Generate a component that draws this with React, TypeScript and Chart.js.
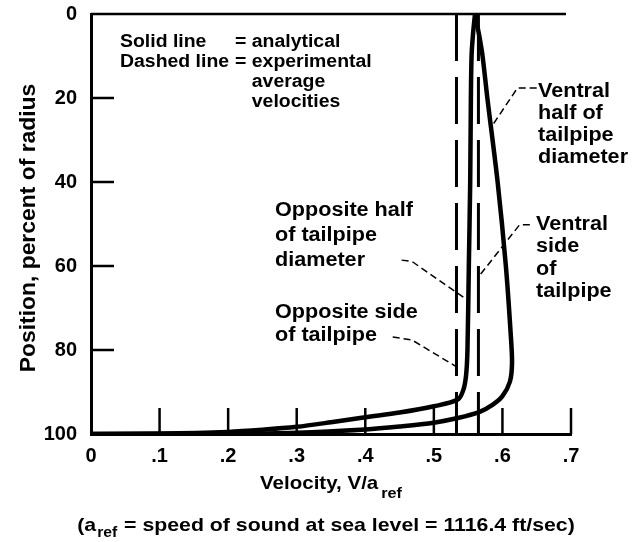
import React, { useEffect, useRef } from 'react';
import { Chart, registerables } from 'chart.js';

Chart.register(...registerables);

// ---- data ----
const xTickValues = [0, 0.1, 0.2, 0.3, 0.4, 0.5, 0.6, 0.7];
const xTickLabels = ['0', '.1', '.2', '.3', '.4', '.5', '.6', '.7'];
const yTickValues = [0, 20, 40, 60, 80, 100];
const yTickLabels = ['0', '20', '40', '60', '80', '100'];

// analytical, opposite half of tailpipe diameter (inner solid curve)
const oppositeHalfVelocity = [0.560, 0.557, 0.555, 0.554, 0.553, 0.551, 0.549, 0.547, 0.543, 0.535, 0.5, 0.45, 0.4, 0.35, 0.3, 0.25, 0.2, 0.1, 0];
const oppositeHalfPosition = [0, 5, 10, 20, 40, 60, 80, 86, 89.5, 91.8, 93.4, 94.9, 96.0, 97.2, 98.3, 99.0, 99.5, 99.9, 100];

// analytical, ventral half of tailpipe diameter (outer solid curve)
const ventralHalfVelocity = [0.560, 0.566, 0.571, 0.578, 0.593, 0.605, 0.612, 0.614, 0.611, 0.600, 0.586, 0.566, 0.535, 0.5, 0.45, 0.4, 0.3, 0.2, 0];
const ventralHalfPosition = [0, 5, 10, 20, 40, 60, 76, 83, 87.5, 91, 93, 94.8, 96.2, 97.3, 98.2, 98.9, 99.7, 99.95, 100];

// experimental average velocities (dashed vertical lines)
const oppositeSideAverage = 0.533;
const ventralSideAverage = 0.565;
const positionRange = [0, 100];

// ---- style / layout ----
const FONT = '"Liberation Sans", Arial, Helvetica, sans-serif';

type Pt = [number, number];
const leaders: Pt[][] = [
  [[0.650, 17.6], [0.622, 17.6], [0.583, 27.1]],
  [[0.640, 50.2], [0.625, 50.2], [0.565, 62.6]],
  [[0.453, 58.6], [0.468, 58.9], [0.548, 68.0]],
  [[0.440, 76.9], [0.468, 77.6], [0.533, 84.0]],
];

const labelTexts: { s: string; x: number; y: number }[] = [
  { s: 'Ventral', x: 538, y: 97 },
  { s: 'half of', x: 538, y: 119 },
  { s: 'tailpipe', x: 538, y: 141 },
  { s: 'diameter', x: 538, y: 163 },
  { s: 'Ventral', x: 536, y: 230 },
  { s: 'side', x: 536, y: 252 },
  { s: 'of', x: 536, y: 275 },
  { s: 'tailpipe', x: 536, y: 297 },
  { s: 'Opposite half', x: 275, y: 216 },
  { s: 'of tailpipe', x: 275, y: 241 },
  { s: 'diameter', x: 275, y: 266 },
  { s: 'Opposite side', x: 275, y: 318 },
  { s: 'of tailpipe', x: 275, y: 341 },
];

function drawText(ctx: CanvasRenderingContext2D, s: string, x: number, y: number, size: number, sx = 1.08, align: 'left' | 'center' = 'left') {
  ctx.save();
  ctx.font = `bold ${size}px ${FONT}`;
  ctx.textBaseline = 'alphabetic';
  ctx.textAlign = 'left';
  ctx.fillStyle = '#000';
  const w = ctx.measureText(s).width * sx;
  const x0 = align === 'center' ? x - w / 2 : x;
  ctx.translate(x0, y);
  ctx.scale(sx, 1);
  ctx.fillText(s, 0, 0);
  ctx.restore();
  return w;
}

function measure(ctx: CanvasRenderingContext2D, s: string, size: number, sx = 1.08) {
  ctx.save();
  ctx.font = `bold ${size}px ${FONT}`;
  const w = ctx.measureText(s).width * sx;
  ctx.restore();
  return w;
}

const decorPlugin = {
  id: 'decor',
  afterDatasetsDraw(chart: any) {
    const ctx: CanvasRenderingContext2D = chart.ctx;
    const xs = chart.scales.x;
    const ys = chart.scales.y;
    const area = chart.chartArea;
    ctx.save();
    ctx.strokeStyle = '#000';
    ctx.lineCap = 'butt';
    // top frame line
    ctx.lineWidth = 2.5;
    ctx.beginPath();
    ctx.moveTo(area.left, area.top);
    ctx.lineTo(xs.getPixelForValue(0.7) - 5, area.top);
    ctx.stroke();
    // bottom ticks (inward)
    ctx.lineWidth = 2.5;
    xTickValues.forEach((v) => {
      if (v === 0) return;
      const px = xs.getPixelForValue(v);
      ctx.beginPath();
      ctx.moveTo(px, area.bottom);
      ctx.lineTo(px, area.bottom - 26);
      ctx.stroke();
    });
    // left ticks (inward)
    yTickValues.forEach((v) => {
      if (v === 0 || v === 100) return;
      const py = ys.getPixelForValue(v);
      ctx.beginPath();
      ctx.moveTo(area.left, py);
      ctx.lineTo(area.left + 23, py);
      ctx.stroke();
    });
    // leader lines
    ctx.lineWidth = 1.5;
    ctx.setLineDash([7, 4]);
    leaders.forEach((pts) => {
      ctx.beginPath();
      pts.forEach(([vx, vy], i) => {
        const px = xs.getPixelForValue(vx);
        const py = ys.getPixelForValue(vy);
        if (i === 0) ctx.moveTo(px, py);
        else ctx.lineTo(px, py);
      });
      ctx.stroke();
    });
    ctx.setLineDash([]);
    ctx.restore();

    // key text (upper left)
    const LS = 18;
    drawText(ctx, 'Solid line', 120, 47, LS);
    drawText(ctx, 'Dashed line', 120, 67, LS);
    const eqW = measure(ctx, '= ', LS);
    drawText(ctx, '= analytical', 235, 47, LS);
    drawText(ctx, '= experimental', 235, 67, LS);
    drawText(ctx, 'average', 235 + eqW, 87, LS);
    drawText(ctx, 'velocities', 235 + eqW, 107, LS);

    // annotation labels
    labelTexts.forEach((t) => drawText(ctx, t.s, t.x, t.y, 20));

    // x axis title with subscript
    const cx = (area.left + area.right) / 2;
    const w1 = measure(ctx, 'Velocity, V/a', 19);
    const w2 = measure(ctx, 'ref', 15);
    const start = cx - (w1 + 3 + w2) / 2;
    drawText(ctx, 'Velocity, V/a', start, 489, 19);
    drawText(ctx, 'ref', start + w1 + 3, 498, 15);

    // footnote
    const fa = '(a';
    const fb = 'ref';
    const fc = ' = speed of sound at sea level = 1116.4 ft/sec)';
    const FS = 19;
    const FX = 1.12;
    const wa = measure(ctx, fa, FS, FX);
    const wb = measure(ctx, fb, 14, FX);
    const wc = measure(ctx, fc, FS, FX);
    const fs = cx - 5 - (wa + wb + 2 + wc) / 2;
    drawText(ctx, fa, fs, 531, FS, FX);
    drawText(ctx, fb, fs + wa + 1, 537, 14, FX);
    drawText(ctx, fc, fs + wa + wb + 2, 531, FS, FX);

    // y axis title (rotated)
    ctx.save();
    ctx.translate(29, 228);
    ctx.rotate(-Math.PI / 2);
    ctx.scale(1.04, 1);
    ctx.font = `bold 22px ${FONT}`;
    ctx.fillStyle = '#000';
    ctx.textAlign = 'center';
    ctx.textBaseline = 'middle';
    ctx.fillText('Position, percent of radius', 0, 0);
    ctx.restore();
  },
};

export default function App() {
  const ref = useRef<HTMLCanvasElement | null>(null);
  useEffect(() => {
    if (!ref.current) return;
    const toPts = (xs: number[], ys: number[]) => xs.map((x, i) => ({ x, y: ys[i] }));
    const solid = {
      showLine: true,
      borderColor: '#000',
      borderWidth: 4.5,
      pointRadius: 0,
      tension: 0.3,
      fill: false,
    };
    const dashed = {
      showLine: true,
      borderColor: '#000',
      borderWidth: 3,
      pointRadius: 0,
      borderDash: [47, 16],
      fill: false,
    };
    const chart = new Chart(ref.current, {
      type: 'scatter',
      data: {
        datasets: [
          { label: 'Opposite half of tailpipe diameter', data: toPts(oppositeHalfVelocity, oppositeHalfPosition), ...solid },
          { label: 'Ventral half of tailpipe diameter', data: toPts(ventralHalfVelocity, ventralHalfPosition), ...solid },
          { label: 'Opposite side of tailpipe', data: positionRange.map((y) => ({ x: oppositeSideAverage, y })), ...dashed },
          { label: 'Ventral side of tailpipe', data: positionRange.map((y) => ({ x: ventralSideAverage, y })), ...dashed },
        ],
      } as any,
      options: {
        responsive: false,
        animation: false,
        devicePixelRatio: 1,
        layout: { padding: { left: 0, top: 14, right: 64, bottom: 0 } },
        plugins: { legend: { display: false }, tooltip: { enabled: false } },
        scales: {
          x: {
            type: 'linear',
            min: 0,
            max: 0.7,
            afterBuildTicks: (s: any) => { s.ticks = xTickValues.map((value) => ({ value })); },
            afterFit: (s: any) => { s.height = 108; s.paddingLeft = 0; s.paddingRight = 0; },
            ticks: {
              callback: (v: any) => xTickLabels[xTickValues.findIndex((t) => Math.abs(t - v) < 1e-9)] ?? '',
              font: { family: FONT, size: 20, weight: 'bold' },
              color: '#000',
              padding: 10,
              maxRotation: 0,
              autoSkip: false,
            },
            grid: { display: false, drawTicks: false },
            border: { display: true, color: '#000', width: 3 },
          },
          y: {
            type: 'linear',
            min: 0,
            max: 100,
            reverse: true,
            afterBuildTicks: (s: any) => { s.ticks = yTickValues.map((value) => ({ value })); },
            afterFit: (s: any) => { s.width = 91; s.paddingTop = 0; s.paddingBottom = 0; },
            ticks: {
              callback: (v: any) => yTickLabels[yTickValues.indexOf(v)] ?? '',
              font: { family: FONT, size: 20, weight: 'bold' },
              color: '#000',
              padding: 14,
              autoSkip: false,
            },
            grid: { display: false, drawTicks: false },
            border: { display: true, color: '#000', width: 3 },
          },
        },
      } as any,
      plugins: [decorPlugin],
    });
    return () => chart.destroy();
  }, []);
  return (
    <div style={{ position: 'absolute', left: 0, top: 0, width: 635, height: 542, background: '#fff' }}>
      <canvas ref={ref} width={635} height={542} />
    </div>
  );
}
